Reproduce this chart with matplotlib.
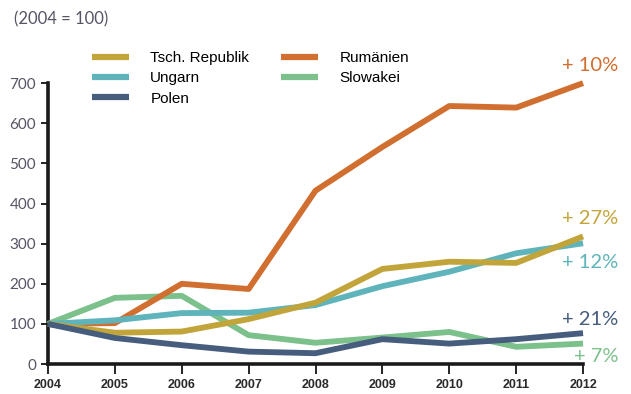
import matplotlib
matplotlib.use("Agg")
import matplotlib.pyplot as plt

years = [2004, 2005, 2006, 2007, 2008, 2009, 2010, 2011, 2012]
tsch = [100, 78, 81, 112, 153, 237, 255, 252, 318]
ungarn = [100, 109, 127, 128, 147, 194, 230, 276, 301]
polen = [100, 65, 47, 31, 27, 62, 51, 62, 77]
rumaenien = [100, 102, 200, 187, 432, 541, 643, 639, 700]
slowakei = [100, 165, 170, 72, 53, 66, 80, 43, 51]

series = [
    ("Tsch. Republik", tsch, "#c2a53a"),
    ("Ungarn", ungarn, "#5fb4bb"),
    ("Polen", polen, "#465d7e"),
    ("Rumänien", rumaenien, "#d06f2f"),
    ("Slowakei", slowakei, "#7cc08c"),
]
changes = ["+ 27%", "+ 12%", "+ 21%", "+ 10%", "+ 7%"]
label_y = [362, 252, 112, 745, 20]

fig = plt.figure(figsize=(6.31, 3.94), dpi=100)
ax = fig.add_axes([0.076, 0.076, 0.848, 0.713])

draw_order = [4, 3, 1, 0, 2]
for i in draw_order:
    name, vals, col = series[i]
    ax.plot(years, vals, color=col, lw=4.2, solid_capstyle="butt", clip_on=False, zorder=3)

handles = []
for name, vals, col in series:
    h, = ax.plot([], [], color=col, lw=4.5, label=name, solid_capstyle="butt")
    handles.append(h)

for (name, vals, col), txt, ly in zip(series, changes, label_y):
    ax.text(2012.53, ly, txt, color=col, fontsize=14.5, family="Lato",
            ha="right", va="center", clip_on=False, zorder=5)

ax.set_xlim(2004, 2012)
ax.set_ylim(0, 700)
ax.set_xticks(years)
ax.set_xticklabels([str(y) for y in years], fontsize=9, color="#2a2a2a",
                   family="Liberation Sans", fontweight="bold")
ax.set_yticks(range(0, 701, 100))
ax.tick_params(axis="y", labelsize=11, labelcolor="#555566", length=5, width=1.2)
ax.tick_params(axis="x", length=7, width=1.2, pad=4)
for lab in ax.get_yticklabels():
    lab.set_family("Lato")

for s in ["top", "right"]:
    ax.spines[s].set_visible(False)
ax.spines["left"].set_linewidth(2.6)
ax.spines["bottom"].set_linewidth(2.6)
ax.spines["left"].set_color("#1a1a1a")
ax.spines["bottom"].set_color("#1a1a1a")

fig.text(0.022, 0.952, "(2004 = 100)", fontsize=12, color="#555566", family="Lato",
         ha="left", va="center")

ax.legend(handles=handles, ncol=2, loc="upper left", bbox_to_anchor=(0.057, 1.162),
          frameon=False, prop={"family": "Liberation Sans", "size": 11},
          handlelength=2.4, handletextpad=1.4, columnspacing=2.1, labelspacing=0.4)

fig.savefig("out.png", dpi=100)
